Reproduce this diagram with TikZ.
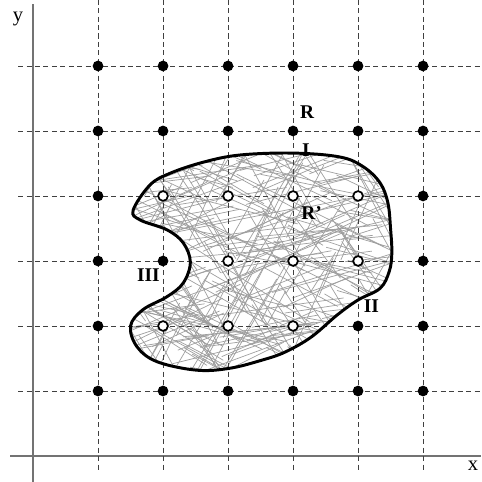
\documentclass[tikz,border=0pt]{standalone}
\usepackage{fontspec}
\setmainfont{Liberation Serif}
\usetikzlibrary{positioning}

\tikzset{
  blobshape/.style={insert path={plot[smooth cycle, tension=0.6] coordinates {
    (1.54,3.78) (1.80,4.17) (2.11,4.35) (2.62,4.52) (3.18,4.63) (4.00,4.66)
    (4.72,4.60) (5.08,4.45) (5.34,4.20) (5.46,3.89) (5.50,3.50) (5.52,3.12)
    (5.48,2.84) (5.34,2.58) (5.00,2.40) (4.68,2.17)
    (4.28,1.83) (3.88,1.60) (3.54,1.48) (3.03,1.35) (2.52,1.32) (1.91,1.45)
    (1.60,1.68) (1.50,2.00) (1.69,2.25) (2.06,2.45) (2.31,2.66) (2.42,2.98)
    (2.31,3.28) (2.06,3.48) (1.65,3.63)}}}
}

\begin{document}
\begin{tikzpicture}[x=1cm, y=1cm, every node/.style={font=\fontsize{8.5}{9}\selectfont\bfseries}]
\tikzstyle{dot}=[circle, fill=black, inner sep=0pt, minimum size=0.165cm]
\tikzstyle{hole}=[circle, draw=black, fill=white, line width=0.75pt, inner sep=0pt, minimum size=0.15cm]
\tikzstyle{gridline}=[black!75, line width=0.4pt, dash pattern=on 2.2pt off 1.5pt]
\tikzstyle{axis}=[black!55, line width=0.55pt]
\tikzstyle{hatch}=[black!38, line width=0.3pt]
\tikzstyle{lbl}=[inner sep=0pt]
\useasboundingbox (-0.508,-0.4) rectangle (6.892,7.015);

% axes
\coordinate (ybot) at (0,-0.4);
\coordinate (ytop) at (0,6.95);
\coordinate (xl) at (-0.35,0);
\coordinate (xr) at (6.892,0);
\draw[axis] (ybot) -- (ytop);
\draw[axis] (xl) -- (xr);
\node[font=\fontsize{9}{10}\selectfont, anchor=center] (ylab) at (-0.23,6.72) {y};
\node[font=\fontsize{9}{10}\selectfont, anchor=center] (xlab) at (6.77,-0.15) {x};

% region with random hatching
\fill[white, blobshape];
\begin{scope}
\clip[blobshape];
\pgfmathsetseed{11}
\foreach \i in {1,...,330}{
  \pgfmathsetmacro\sx{1.3+4.4*rnd}
  \pgfmathsetmacro\sy{1.2+3.6*rnd}
  \pgfmathsetmacro\ang{{22,-28,-58,62,10,-14}[int(6*rnd)]+10*rnd-5}
  \pgfmathsetmacro\len{0.3+1.0*rnd}
  \pgfmathsetmacro\dbl{2*\len}
  \draw[hatch] (\sx,\sy) ++(\ang:-\len) -- ++(\ang:\dbl);
}
\end{scope}

% lattice
\foreach \k in {1,...,6}{
  \draw[gridline] (\k,7.02) -- (\k,-0.25);
  \draw[gridline] (-0.23,\k) -- (6.892,\k);
}

\draw[line width=1.3pt, blobshape];

\foreach \x in {1,...,6}{
  \foreach \y in {1,...,6}{
    \pgfmathtruncatemacro\inside{(\y==4 && \x>=2 && \x<=5) || (\y==3 && \x>=3 && \x<=5) || (\y==2 && \x>=2 && \x<=4)}
    \ifnum\inside=1
      \node[hole] (p-\x-\y) at (\x,\y) {};
    \else
      \node[dot] (p-\x-\y) at (\x,\y) {};
    \fi
  }
}

% labels
\node[lbl, above right=0.12cm and 0.04cm of p-4-5] (R) {R};
\node[lbl, below right=0.13cm and 0.07cm of p-4-5] (I) {I};
\node[lbl, below right=0.1cm and 0.06cm of p-4-4] (Rp) {R'};
\node[lbl, below left=0.05cm and -0.02cm of p-2-3] (III) {III};
\node[lbl, above right=0.13cm and 0.02cm of p-5-2] (II) {II};
\end{tikzpicture}
\end{document}
